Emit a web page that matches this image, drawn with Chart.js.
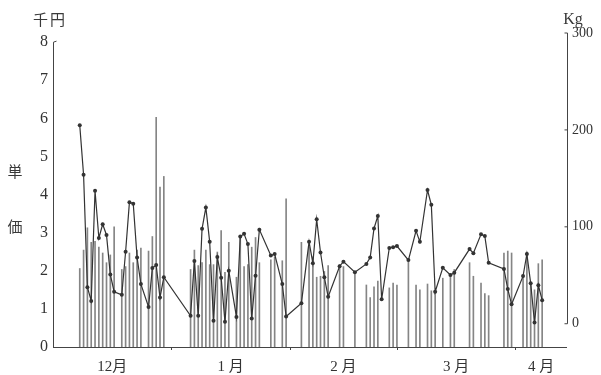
<!DOCTYPE html>
<html>
<head>
<meta charset="utf-8">
<script src="https://cdn.jsdelivr.net/npm/chart.js@4/dist/chart.umd.min.js"></script>
<style>
  html, body { margin: 0; padding: 0; background: #fff; }
  #wrap { position: relative; width: 601px; height: 375px; }
  canvas { position: absolute; left: 0; top: 0; }
  .lbl { position: absolute; color: #3a3a3a; font-family: 'Liberation Serif', 'Noto Sans CJK JP', serif; font-size: 15px; line-height: 1; white-space: nowrap; transform: translate(-50%, -50%); }
</style>
</head>
<body>
<div id="wrap">
  <canvas id="c" width="601" height="375"></canvas>
  <div class="lbl" style="left:50px;top:20px;letter-spacing:2px;">千円</div>
  <div class="lbl" style="left:573px;top:19px;font-size:16px;">Kg</div>
  <div class="lbl" style="left:15px;top:172px;">単</div>
  <div class="lbl" style="left:15px;top:227px;">価</div>
</div>
<script>
// Market days (month/day), unit price (thousand yen) and quantity (kg)
const dates = [
  '12/8','12/9','12/10','12/11','12/12','12/13','12/14','12/15','12/16','12/17',
  '12/19','12/20','12/21','12/22','12/23','12/24','12/26','12/27','12/28','12/29','12/30',
  '1/6','1/7','1/8','1/9','1/10','1/11','1/12','1/13','1/14','1/15','1/16',
  '1/18','1/19','1/20','1/21','1/22','1/23','1/24','1/27','1/28','1/30','1/31',
  '2/4','2/6','2/7','2/8','2/9','2/10','2/11','2/14','2/15','2/18',
  '2/21','2/22','2/23','2/24','2/25','2/27','2/28',
  '3/1','3/4','3/6','3/7','3/9','3/10','3/11','3/13','3/15','3/16',
  '3/20','3/21','3/23','3/24','3/25','3/29','3/30','3/31',
  '4/3','4/4','4/5','4/6','4/7','4/8'
];
const price = [
  5.82, 4.52, 1.57, 1.21, 4.10, 2.86, 3.22, 2.94, 1.90, 1.45,
  1.37, 2.50, 3.80, 3.76, 2.35, 1.65, 1.05, 2.07, 2.15, 1.30, 1.83,
  0.82, 2.26, 0.82, 3.10, 3.66, 2.76, 0.69, 2.36, 1.82, 0.66, 2.00,
  0.79, 2.90, 2.97, 2.70, 0.75, 1.87, 3.08, 2.40, 2.44, 1.65, 0.80,
  1.15, 2.76, 2.20, 3.35, 2.48, 1.83, 1.32, 2.12, 2.24, 1.96,
  2.18, 2.35, 3.11, 3.44, 1.25, 2.60, 2.62,
  2.65, 2.28, 3.05, 2.76, 4.12, 3.73, 1.45, 2.08, 1.89, 1.95,
  2.57, 2.46, 2.96, 2.91, 2.21, 2.05, 1.52, 1.12,
  1.86, 2.44, 1.67, 0.64, 1.62, 1.23
];
const quantity = [
  57, 76, 99, 84, 85, 79, 73, 63, 71, 100,
  56, 59, 73, 63, 76, 78, 75, 90, 213, 141, 152,
  56, 76, 60, 63, 76, 61, 61, 74, 96, 53, 84,
  48, 90, 59, 61, 79, 89, 63, 66, 69, 65, 129,
  84, 79, 69, 48, 49, 54, 60, 61, 59, 53,
  40, 27, 38, 44, null, 37, 42,
  40, 66, 40, 35, 41, 34, 33, 47, 49, 56,
  63, 49, 42, 31, 29, 73, 75, 73,
  49, 74, 42, 35, 62, 66
];
const monthNames = ['12月', '1 月', '2 月', '3 月', '4 月'];
const monthLengths = [31, 31, 28, 31];
const monthNumbers = [12, 1, 2, 3, 4];
const priceTicks = [0, 1, 2, 3, 4, 5, 6, 7, 8];
const qtyTicks = [0, 100, 200, 300];

// day offset counted from 1 December
const monthStart = [0];
monthLengths.forEach((n, i) => monthStart.push(monthStart[i] + n));
function dayIndex(s) {
  const [m, d] = s.split('/').map(Number);
  return monthStart[monthNumbers.indexOf(m)] + d - 1;
}

const X_MAX = 134.5;         // mid April
const PRICE_MAX = 8.24;
const QTY_MIN = -24, QTY_MAX = 300;

const labelPos = monthStart.map((s, i) => (s + (i + 1 < monthStart.length ? monthStart[i + 1] : X_MAX)) / 2);

const linePts = [], barPts = [];
dates.forEach((d, i) => {
  const x = dayIndex(d);
  if (price[i] != null) linePts.push({ x, y: price[i] });
  if (quantity[i] != null) barPts.push({ x, y: quantity[i] });
});

const ink = '#333';
const serif = "'Liberation Serif', 'Noto Sans CJK JP', serif";

// axis lines drawn only over their value ranges
const axesPlugin = {
  id: 'axes',
  afterDraw(chart) {
    const { ctx, chartArea: a, scales } = chart;
    const yl = scales.y, yr = scales.y1, xs = scales.x;
    ctx.save();
    ctx.strokeStyle = '#444';
    ctx.lineWidth = 1;
    ctx.beginPath();
    // x axis
    ctx.moveTo(a.left, a.bottom + 0.5);
    ctx.lineTo(a.right, a.bottom + 0.5);
    // left axis 0..8
    const lx = Math.round(a.left) + 0.5;
    ctx.moveTo(lx, yl.getPixelForValue(0));
    ctx.lineTo(lx, yl.getPixelForValue(8));
    ctx.lineTo(lx + 3, yl.getPixelForValue(8) - 1);
    // right axis 0..300
    const rx = Math.round(a.right) + 0.5;
    ctx.moveTo(rx, yr.getPixelForValue(0));
    ctx.lineTo(rx, yr.getPixelForValue(300));
    qtyTicks.forEach(v => {
      const py = yr.getPixelForValue(v);
      ctx.moveTo(rx - 3, py);
      ctx.lineTo(rx, py);
    });
    // month boundaries
    monthStart.slice(1).forEach(v => {
      const px = Math.round(xs.getPixelForValue(v)) + 0.5;
      ctx.moveTo(px, a.bottom);
      ctx.lineTo(px, a.bottom + 3);
    });
    ctx.stroke();
    ctx.restore();
  }
};

new Chart(document.getElementById('c'), {
  data: {
    datasets: [
      {
        type: 'line',
        data: linePts,
        yAxisID: 'y',
        borderColor: ink,
        borderWidth: 1.2,
        pointRadius: 2,
        pointBackgroundColor: ink,
        pointBorderColor: ink,
        pointBorderWidth: 0,
        tension: 0,
        spanGaps: true,
        order: 1
      },
      {
        type: 'bar',
        data: barPts,
        yAxisID: 'y1',
        base: QTY_MIN,
        backgroundColor: '#858585',
        borderWidth: 0,
        barThickness: 1,
        order: 2
      }
    ]
  },
  options: {
    responsive: false,
    animation: false,
    devicePixelRatio: 1,
    layout: { padding: { top: 33, left: 0, right: 0, bottom: 0 } },
    plugins: { legend: { display: false }, tooltip: { enabled: false } },
    scales: {
      x: {
        type: 'linear',
        offset: false,
        min: 0,
        max: X_MAX,
        grid: { display: false, offset: false },
        border: { display: false },
        afterBuildTicks: s => { s.ticks = labelPos.map(v => ({ value: v })); },
        afterFit: s => { s.height = 28; },
        ticks: {
          autoSkip: false,
          maxRotation: 0,
          padding: 3,
          color: ink,
          font: { family: serif, size: 15 },
          callback: (v, i) => monthNames[i]
        }
      },
      y: {
        position: 'left',
        min: 0,
        max: PRICE_MAX,
        grid: { display: false, drawTicks: false },
        border: { display: false },
        afterBuildTicks: s => { s.ticks = priceTicks.map(v => ({ value: v })); },
        afterFit: s => { s.width = 53; },
        ticks: { padding: 5, color: ink, font: { family: serif, size: 16 } }
      },
      y1: {
        position: 'right',
        min: QTY_MIN,
        max: QTY_MAX,
        grid: { display: false, drawTicks: false },
        border: { display: false },
        afterBuildTicks: s => { s.ticks = qtyTicks.map(v => ({ value: v })); },
        afterFit: s => { s.width = 34; },
        ticks: { padding: 5, color: ink, font: { family: serif, size: 14 } }
      }
    }
  },
  plugins: [axesPlugin]
});
</script>
</body>
</html>
